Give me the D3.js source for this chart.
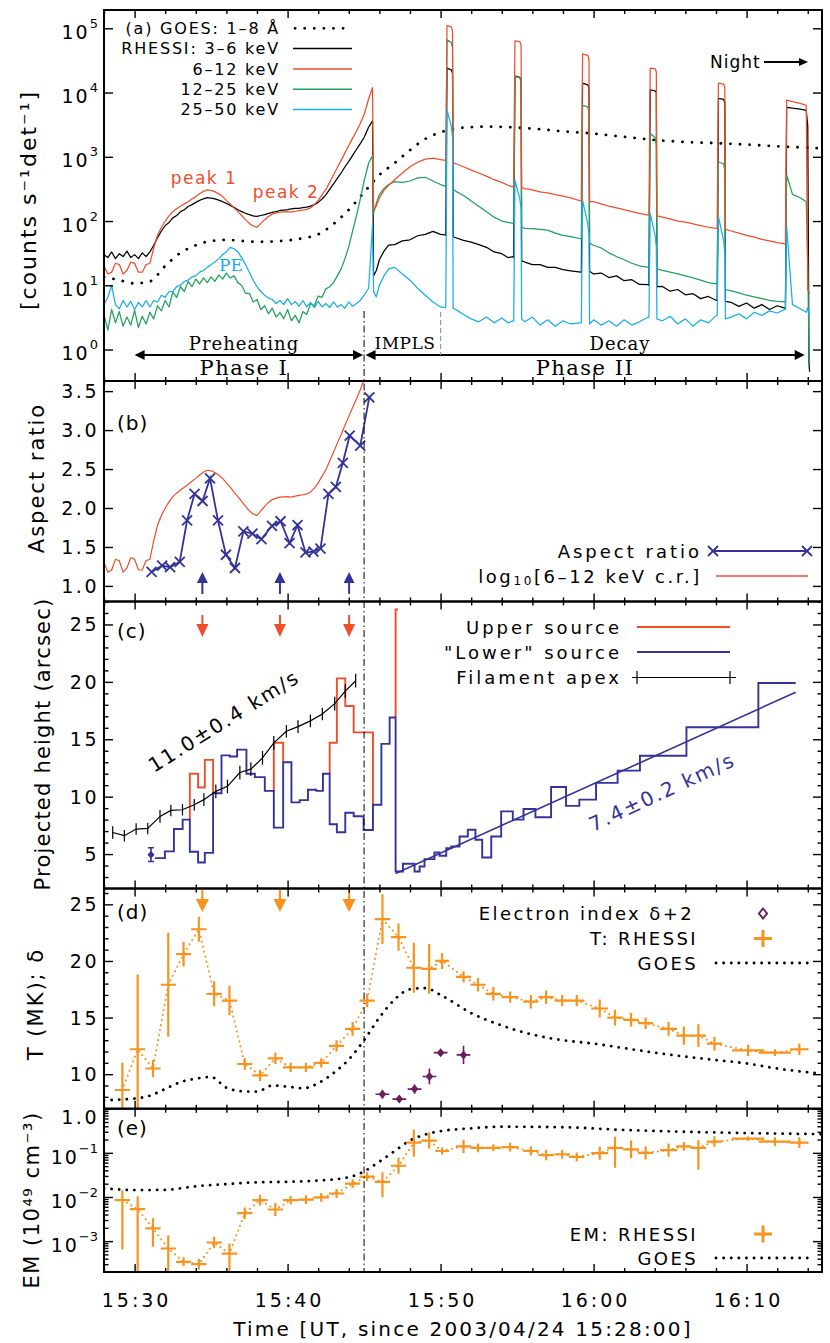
<!DOCTYPE html>
<html>
<head>
<meta charset="utf-8">
<script src="https://cdn.jsdelivr.net/npm/d3@7/dist/d3.min.js"></script>
<style>
html,body{margin:0;padding:0;background:#fff;}
text{font-family:"DejaVu Sans",sans-serif;}
</style>
</head>
<body>
<svg id="chart" width="830" height="1343" xmlns="http://www.w3.org/2000/svg"></svg>
<script>
// ================= DATA (time t = minutes since 15:28:00 UT) =================
const timeTicksMajor = [2, 12, 22, 32, 42];
const timeTickLabels = ["15:30", "15:40", "15:50", "16:00", "16:10"];
const timeTicksMinor = [0, 4, 6, 8, 10, 14, 16, 18, 20, 24, 26, 28, 30, 34, 36, 38, 40, 44, 46];

// panel (a): RHESSI count rates
const timesA = [0,0.25,0.5,0.75,1,1.25,1.5,1.75,2,2.25,2.5,2.75,3,3.25,3.5,3.75,4,4.25,4.5,4.75,
5,5.25,5.5,5.75,6,6.25,6.5,6.75,7,7.25,7.5,7.75,8,8.25,8.5,8.75,9,9.25,9.5,9.75,
10,10.25,10.5,10.75,11,11.25,11.5,11.75,12,12.25,12.5,12.75,13,13.25,13.5,13.75,14,14.25,14.5,14.75,
15,15.25,15.5,15.75,16,16.25,16.5,16.75,17,
17.3,17.55,17.62,17.8,18,18.3,18.6,19,19.5,20,20.5,21,21.5,22,22.3,
22.34,22.42,22.7,22.78,22.82,
23,23.5,24,24.5,25,25.5,26,26.4,26.74,
26.78,26.86,27.18,27.26,27.3,
27.5,28,28.5,29,29.5,30,30.5,31.16,
31.2,31.28,31.62,31.7,31.74,
32,32.5,33,33.5,34,34.5,35,35.58,
35.62,35.7,36.02,36.1,36.14,
36.5,37,37.5,38,38.5,39,39.5,40.04,
40.08,40.16,40.5,40.58,40.62,
41,41.5,42,42.5,43,43.5,44,44.5,
44.54,44.62,45,45.5,45.9,46,46.08,46.12];
const rate3to6 = [30,27,33,26,31,28,34,27,30,26,32,28,33,42,55,70,85,95,112,122,
140,150,168,180,195,210,222,232,228,222,212,200,188,175,163,150,140,132,126,120,
118,122,126,132,136,140,146,148,150,155,157,158,162,165,171,180,195,220,255,310,
380,460,560,700,850,1050,1300,1600,2000,
2900,3640,14,17,25,34,42,43,49,51,59,62,69,62,61,
60,24000,22500,20000,57,
55,50,47,43,39,33,31,27,28,
27,18000,17200,16000,24,
23,21,21,19,19,17.5,16.8,16,
16,14000,13200,12000,16.5,
15,15.5,13.2,14,11.8,12.2,10.3,10.2,
10,11000,10600,10000,9.5,
9.6,8.1,8.6,7.1,7.4,6.2,6.7,5.8,
5.9,8100,7800,7000,5.6,
5.4,4.7,5.3,4.4,5.0,4.2,4.8,4.4,
4.4,5900,5700,5500,5300,3000,0.6,0.45];
const rate6to12 = [20,15,16,22,21,15,17,23,22,16,16,21,22,38,60,80,100,120,140,155,
170,185,200,220,240,265,290,305,300,285,265,240,210,185,160,140,122,105,92,84,
80,92,105,118,128,134,138,139,140,138,142,145,148,152,160,180,210,255,310,400,
520,680,880,1150,1500,1950,2500,3300,4500,
8000,11900,150,170,230,300,360,440,560,700,820,920,950,900,880,
880,110000,105000,90000,800,
780,700,620,560,500,440,400,360,340,
340,64000,62000,55000,330,
320,305,285,275,258,245,230,205,
205,40000,38000,33000,200,
200,185,170,160,150,140,132,124,
124,24000,23500,21000,120,
115,108,100,96,90,85,80,77,
77,14000,13500,12000,74,
70,65,60,56,52,49,46,44,
44,7600,7200,6800,6300,8.4,8.0,7.5];
const rate12to25 = [3.5,2.0,4.2,2.6,3.9,2.3,3.2,2.4,4.1,2.2,3.3,2.5,3.8,3.0,4.8,4.0,5.8,4.6,7.8,6.5,
9.5,8.0,11.5,9.5,12.5,10.5,13,11,13.5,11.5,14.5,12.5,15.5,13,14,11,10,7.5,7.5,5.5,
6,4.2,4.8,3.6,4.4,3.2,3.8,3.0,4.2,2.8,3.4,2.6,3.9,3.5,5.2,4.8,6.8,6.5,8.8,9.5,
11,14,18,26,40,70,120,220,420,
800,1035,130,190,260,320,370,410,400,420,470,480,420,370,350,
350,66000,60000,50000,310,
290,250,205,170,140,115,100,95,92,
92,17700,17000,15000,80,
77,76,74,72,65,60,57,53,
53,6300,6000,5000,45,
42,38,32,28,25,22,20,19,
19,2300,2000,1500,18,
17,16,15,14,13,12,11,10.5,
10.5,830,780,600,8.6,
8.2,7.6,7.0,6.6,6.2,5.8,5.6,5.5,
5.5,520,260,230,200,20,1.0,0.6];
const rate25to50 = [5,6.5,10,5,4.3,5.8,4.6,5.6,4.2,5.4,4.6,5.8,4.6,5.8,5.5,7,6.5,8,8,9.5,
10,11.5,12,13.5,14,16,17,19,21,23,26,30,33,39,37,33,27,21,16,12,
9.5,8,7,6.3,6,5.2,5.8,5.0,6.2,5.0,5.6,4.7,5.8,4.6,5.4,4.5,5.6,4.6,5.2,4.5,
5.5,4.6,5.0,4.4,5.5,4.7,5.2,5.8,7,
9,87,8,6.6,10,14,18,19,15,12,9,7,5.5,4.6,4.5,
4.5,5300,3000,2000,4.4,
4.2,3.5,3.0,2.7,3.2,2.6,3.1,2.6,2.8,
2.8,434,220,150,3,
2.7,3.2,2.4,2.9,2.3,2.8,2.5,2.6,
2.6,210,90,60,2.5,
2.9,2.4,2.8,2.3,2.9,2.4,2.7,3.2,
3.2,131,60,40,3,
2.8,3.3,2.5,3.0,2.3,2.9,2.6,3.4,
3.4,116,50,30,3,
3.2,3.6,3.0,3.8,3.4,4.0,3.7,4.2,
4.2,81,5,4.3,3.8,4.5,3.5,3.8];
const goesTime = [0,1,2,3,4,5,6,7,8,9,10,11,12,13,14,15,16,17,18,19,20,21,22,23,24,25,26,28,30,32,34,36,38,40,42,44,46.93];
const goesFlux = [13.5,12,10.7,11.5,20,32,42,49,51,49,47.5,48,50,54,62,90,150,280,520,800,1270,1900,2400,2750,2900,2950,2920,2750,2500,2300,2050,1830,1700,1630,1550,1460,1350];

// panel (b): aspect ratio
const aspectTime = [3.11,3.80,4.32,4.95,5.43,5.92,6.44,6.93,7.45,7.97,8.56,9.11,9.70,10.29,10.98,11.54,12.13,12.65,13.17,13.69,14.15,14.67,15.15,15.61,16.06,16.75,17.34];
const aspectRatio = [1.18,1.26,1.24,1.31,1.84,2.18,2.09,2.38,1.84,1.40,1.23,1.70,1.67,1.60,1.77,1.83,1.55,1.78,1.43,1.44,1.48,2.18,2.27,2.58,2.93,2.80,3.42];
const markerTimes = [6.43, 11.5, 16.02];

// panel (c): heights
const filamentTime = [0.57,1.33,2.10,2.86,3.66,4.37,5.13,5.90,6.53,7.31,8.07,8.88,9.60,10.36,11.10,11.92,12.68,13.49,14.27,15.08,15.77,16.45];
const filamentHeight = [6.88,6.60,7.18,7.23,8.28,8.80,8.86,9.30,9.74,10.46,10.90,12.10,12.40,13.37,14.68,15.70,16.10,16.60,17.20,18.10,19.20,20.10];
const filamentErr = [0.55,0.5,0.5,0.5,0.55,0.5,0.5,0.5,0.55,0.6,0.6,0.6,0.6,0.6,0.6,0.55,0.55,0.55,0.55,0.6,0.6,0.6];
const binEdges = [3.33,3.98,4.57,5.14,5.61,6.15,6.59,7.13,7.68,8.22,8.70,9.31,9.86,10.51,11.10,11.71,12.25,12.79,13.33,13.88,14.31,14.75,15.22,15.77,16.32,16.97,17.58,18.13,18.67,19.06,19.54,20.30,20.63,20.95,21.60,21.93,22.37,22.70,23.24,23.78,24.28,24.72,25.31,25.96,26.72,27.42,28.20,29.22,30.20,31.07,32.16,33.57,35.03,38.07,42.77,45.21];
const lowerHeight = [4.65,5.23,7.18,8.0,5.2,4.27,5.1,10.3,13.6,13.5,14.1,12.0,11.7,10.5,7.3,13.0,9.5,9.7,10.6,10.5,12.0,7.6,6.9,8.6,8.3,7.1,9.3,14.6,16.9,
3.48,4.15,3.48,3.92,4.56,5.14,4.85,5.52,5.66,6.53,7.12,6.25,4.7,6.53,8.72,8.0,8.92,8.2,10.84,9.2,9.74,11.2,12.27,13.57,16.04,19.9];
const upperHeight = [null,null,null,null,12.0,10.8,13.2,null,null,null,null,null,null,null,14.7,null,null,null,null,null,null,14.7,20.3,17.9,15.6,15.6,null,null,null,
null,null,null,null,null,null,null,null,null,null,null,null,null,null,null,null,null,null,null,null,null,null,null,null,null,null];
const upperSpikeTime = [19.06, 19.22];
const upperSpikeHeight = [26.3, 26.3];
const lowerFirstTime = [3.07], lowerFirstHeight = [4.95], lowerFirstErr = [0.6];
const lowerFitTime = [19.06, 45.21], lowerFitHeight = [3.3, 19.1];

// panels (d),(e): RHESSI thermal fits
const rhessiTime = [1.2,2.2,3.2,4.2,5.2,6.2,7.2,8.2,9.2,10.2,11.2,12.2,13.2,14.2,15.2,16.25,17.2,18.2,19.25,20.25,21.25,22.1,23.5,24.45,25.45,26.55,27.9,28.9,29.95,30.9,32.4,33.4,34.45,35.4,36.9,37.9,38.85,39.9,42.1,43.85,45.45];
const rhessiHalfWidth = [0.5,0.5,0.5,0.5,0.5,0.5,0.5,0.5,0.5,0.5,0.5,0.5,0.5,0.5,0.5,0.5,0.5,0.5,0.5,0.5,0.5,0.45,0.5,0.5,0.5,0.55,0.5,0.5,0.5,0.5,0.55,0.5,0.5,0.5,0.55,0.5,0.5,0.5,1.05,1.05,0.6];
const tempRhessi = [8.6,12.2,10.5,17.9,20.6,22.8,17.1,16.5,10.9,9.9,11.4,10.6,10.6,11.0,12.5,14.0,16.5,23.7,22.1,19.4,19.3,20.0,18.6,17.9,17.1,16.8,16.4,16.8,16.5,16.5,15.8,15.0,14.8,14.5,14.0,13.4,13.4,12.7,12.1,11.9,12.2];
const tempErr = [2.4,6.6,0.75,4.6,1.1,1.1,1.1,1.3,0.5,0.5,0.5,0.4,0.4,0.4,0.5,0.6,0.6,2.2,1.2,2.2,2.2,0.7,0.5,0.6,0.6,0.5,0.6,0.6,0.5,0.5,0.8,0.7,0.6,0.5,0.6,0.8,1.0,0.6,0.5,0.3,0.5];
const goesTempTime = [0,1,2,3,4,5,6,7,8,9,10,11,12,13,14,15,16,17,18,19,20,21,22,24,26,28,30,32,34,36,38,40,42,44,46.93];
const goesTemp = [7.7,7.75,7.85,8.1,8.7,9.3,9.6,9.75,8.8,8.5,8.45,9.0,8.9,8.75,9.2,10.1,11.3,13.0,15.0,16.6,17.5,17.6,17.0,15.4,14.3,13.5,13.0,12.7,12.3,11.9,11.55,11.25,10.95,10.5,10.05];
const deltaTime = [18.2,19.3,20.3,21.27,22.0,23.5];
const deltaPlus2 = [8.23,7.8,8.68,9.8,11.9,11.7];
const deltaErr = [0.4,0.2,0.4,0.7,0.25,0.8];

const emRhessi = [8.5e-3,5.3e-3,1.95e-3,6.8e-4,3.4e-4,3.0e-4,9.3e-4,5.2e-4,4.3e-3,8.5e-3,5.2e-3,8.5e-3,8.7e-3,9.8e-3,1.2e-2,2.0e-2,2.9e-2,2.2e-2,5.1e-2,0.17,0.19,0.11,0.14,0.13,0.13,0.135,0.11,0.089,0.093,0.081,0.098,0.13,0.12,0.10,0.115,0.14,0.13,0.18,0.21,0.18,0.17];
const emErrUpDex = [0.22,0.29,0.23,0.3,0.1,0.12,0.13,0.23,0.13,0.12,0.15,0.1,0.1,0.1,0.1,0.1,0.1,0.22,0.18,0.3,0.18,0.08,0.15,0.1,0.08,0.1,0.1,0.12,0.1,0.1,0.15,0.25,0.2,0.15,0.15,0.1,0.17,0.12,0.05,0.1,0.12];
const emErrDnDex = [1.12,2,0.42,1,0.1,0.12,0.13,0.5,0.13,0.12,0.15,0.1,0.1,0.1,0.1,0.1,0.1,0.35,0.18,0.32,0.18,0.08,0.15,0.1,0.08,0.1,0.1,0.12,0.1,0.1,0.15,0.45,0.2,0.15,0.15,0.1,0.5,0.12,0.05,0.1,0.12];
const goesEmTime = [0,2,4,6,8,10,12,14,16,17,18,19,20,21,22,24,26,30,34,38,42,46.93];
const goesEm = [0.0158,0.0143,0.0145,0.0175,0.0195,0.0215,0.022,0.0235,0.028,0.038,0.063,0.11,0.19,0.26,0.31,0.36,0.39,0.38,0.33,0.30,0.28,0.265];

// ================= DRAWING =================
const C = {red:"#f04e2b", green:"#1ea35a", cyan:"#18aee9", navy:"#33339b", orange:"#f7931e", purple:"#6c1d5c"};
const svg = d3.select("#chart");
svg.append("rect").attr("width",830).attr("height",1343).attr("fill","#fff");
const X0 = 104, X1 = 822;
const x = d3.scaleLinear().domain([0, 46.93]).range([X0, X1]);
const P = {a:{top:10,bot:381}, b:{top:381,bot:601.5}, c:{top:601.5,bot:888.5}, d:{top:888.5,bot:1108.7}, e:{top:1108.7,bot:1272}};
const ya = d3.scaleLog().domain([Math.pow(10,-0.49), Math.pow(10,5.285)]).range([P.a.bot, P.a.top]);
const yb = d3.scaleLinear().domain([0.8, 3.63]).range([P.b.bot, P.b.top]);
const yc = d3.scaleLinear().domain([2, 27]).range([P.c.bot, P.c.top]);
const yd = d3.scaleLinear().domain([6.95, 26.4]).range([P.d.bot, P.d.top]);
const ye = d3.scaleLog().domain([Math.pow(10,-3.7), 1]).range([P.e.bot, P.e.top]);

const defs = svg.append("defs");
for (const k in P) {
  defs.append("clipPath").attr("id","clip-"+k).append("rect")
    .attr("x",X0).attr("y",P[k].top).attr("width",X1-X0).attr("height",P[k].bot-P[k].top);
}
const layer = k => svg.append("g").attr("clip-path",`url(#clip-${k})`);

function label(parent, px, py, s, o = {}) {
  const t = parent.append("text").attr("x",px).attr("y",py)
    .attr("text-anchor", o.anchor || "start")
    .attr("dominant-baseline","central")
    .attr("fill", o.fill || "#000")
    .style("font-size", (o.size || 16) + "px");
  if (o.ls != null) t.style("letter-spacing", o.ls + "px");
  if (o.family) t.style("font-family", o.family);
  if (o.weight) t.style("font-weight", o.weight);
  if (o.rotate) t.attr("transform", `rotate(${o.rotate},${px},${py})`);
  if (s != null) t.text(s);
  return t;
}
function axesFor(k, y, yMajor, yMinor) {
  const g = svg.append("g");
  const {top, bot} = P[k];
  const put = (axis, tx, ty) => g.append("g").attr("transform",`translate(${tx},${ty})`).call(axis)
      .call(s => { s.select(".domain").remove(); s.selectAll("text").remove(); });
  put(d3.axisBottom(x).tickValues(timeTicksMajor).tickSize(-8), 0, bot);
  put(d3.axisBottom(x).tickValues(timeTicksMinor).tickSize(-4), 0, bot);
  put(d3.axisTop(x).tickValues(timeTicksMajor).tickSize(-8), 0, top);
  put(d3.axisTop(x).tickValues(timeTicksMinor).tickSize(-4), 0, top);
  put(d3.axisLeft(y).tickValues(yMajor).tickSize(-9), X0, 0);
  put(d3.axisRight(y).tickValues(yMajor).tickSize(-9), X1, 0);
  if (yMinor) {
    put(d3.axisLeft(y).tickValues(yMinor).tickSize(-4.5), X0, 0);
    put(d3.axisRight(y).tickValues(yMinor).tickSize(-4.5), X1, 0);
  }
  g.selectAll("line").attr("stroke","#000").attr("stroke-width",1.4);
  g.append("rect").attr("x",X0).attr("y",top).attr("width",X1-X0).attr("height",bot-top)
    .attr("fill","none").attr("stroke","#000").attr("stroke-width",2);
}
function tri(g, tx, ty, dir, len, hw, color) {
  let pts;
  if (dir === "right") pts = [[tx,ty],[tx-len,ty-hw],[tx-len,ty+hw]];
  if (dir === "left") pts = [[tx,ty],[tx+len,ty-hw],[tx+len,ty+hw]];
  if (dir === "up") pts = [[tx,ty],[tx-hw,ty+len],[tx+hw,ty+len]];
  if (dir === "down") pts = [[tx,ty],[tx-hw,ty-len],[tx+hw,ty-len]];
  g.append("path").attr("d","M"+pts.map(p=>p.join(",")).join("L")+"Z").attr("fill",color);
}
const dotted = (sel, w, gap) => sel.attr("fill","none").attr("stroke-linecap","round")
   .attr("stroke-width", w).attr("stroke-dasharray", `0.1,${gap}`);
const TICK = {anchor:"end", size:19, ls:2.5};

// ---------- panel (a) ----------
const ga = layer("a");
const lineA = d3.line().x(d => x(d[0])).y(d => ya(d[1]));
dotted(ga.append("path").datum(goesTime.map((t,i)=>[t,goesFlux[i]]))
  .attr("d", d3.line().x(d=>x(d[0])).y(d=>ya(d[1])).curve(d3.curveMonotoneX)).attr("stroke","#000"), 2.8, 9.5);
[[rate3to6,"#000"],[rate12to25,C.green],[rate6to12,C.red],[rate25to50,C.cyan]].forEach(([arr,col]) => {
  ga.append("path").datum(timesA.map((t,i)=>[t,arr[i]])).attr("d",lineA)
    .attr("fill","none").attr("stroke",col).attr("stroke-width",1.25).attr("stroke-linejoin","round");
});
axesFor("a", ya, [1,10,100,1000,1e4,1e5], null);
[0,1,2,3,4,5].forEach(p => {
  const t = label(svg, 98, ya(Math.pow(10,p)) + 3.5, null, {anchor:"end", size:19, ls:2});
  t.append("tspan").text("10");
  t.append("tspan").attr("dy",-9).style("font-size","13px").style("letter-spacing","0px").text(p);
});
label(svg, 28, 200, "[counts s⁻¹det⁻¹]", {anchor:"middle", size:22, ls:2, rotate:-90});
const legA = [["(a) GOES: 1–8 Å", null, 28.3], ["RHESSI: 3–6 keV", "#000", 48.5], ["6–12 keV", C.red, 69], ["12–25 keV", C.green, 89.3], ["25–50 keV", C.cyan, 109.5]];
legA.forEach(([s,col,yy]) => {
  label(svg, 280, yy, s, {anchor:"end", size:16, ls:1.8});
  if (col) svg.append("line").attr("x1",293).attr("x2",352).attr("y1",yy).attr("y2",yy).attr("stroke",col).attr("stroke-width",1.4);
  else dotted(svg.append("line").attr("x1",295).attr("x2",352).attr("y1",yy).attr("y2",yy).attr("stroke","#000"), 2.8, 9.5);
});
label(svg, 204, 178, "peak 1", {anchor:"middle", size:17, ls:1.5, fill:C.red});
label(svg, 286, 192, "peak 2", {anchor:"middle", size:17, ls:1.5, fill:C.red});
label(svg, 231, 265, "PE", {anchor:"middle", size:17, fill:C.cyan, family:"DejaVu Serif"});
label(svg, 710, 62, "Night", {anchor:"start", size:17, ls:1});
svg.append("line").attr("x1",764).attr("x2",800).attr("y1",62).attr("y2",62).attr("stroke","#000").attr("stroke-width",1.8);
tri(svg, 808, 62, "right", 9, 4, "#000");
const ann = svg.append("g");
ann.append("line").attr("x1",x(2.0)+6).attr("x2",x(17)-7).attr("y1",355).attr("y2",355).attr("stroke","#000").attr("stroke-width",2);
tri(ann, x(2.0), 355, "left", 10, 5, "#000"); tri(ann, x(17)-1, 355, "right", 10, 5, "#000");
ann.append("line").attr("x1",x(17)+7).attr("x2",x(45.8)-6).attr("y1",355).attr("y2",355).attr("stroke","#000").attr("stroke-width",2);
tri(ann, x(17)+1.5, 355, "left", 10, 5, "#000"); tri(ann, x(45.8), 355, "right", 10, 5, "#000");
ann.append("line").attr("x1",x(22)).attr("x2",x(22)).attr("y1",312).attr("y2",355).attr("stroke","#999").attr("stroke-width",1.2).attr("stroke-dasharray","5,3");
label(ann, 244, 343, "Preheating", {anchor:"middle", size:18, ls:1, family:"DejaVu Serif"});
label(ann, 244, 368, "Phase I", {anchor:"middle", size:21, ls:1.5, family:"DejaVu Serif"});
label(ann, 405, 343, "IMPLS", {anchor:"middle", size:17, ls:0.5, family:"DejaVu Serif"});
label(ann, 620, 343, "Decay", {anchor:"middle", size:18, ls:1, family:"DejaVu Serif"});
label(ann, 585, 368, "Phase II", {anchor:"middle", size:21, ls:1.5, family:"DejaVu Serif"});

// ---------- panel (b) ----------
const gb = layer("b");
gb.append("path").datum(timesA.map((t,i)=>[t,rate6to12[i]]).filter(d=>d[0]<=17.55))
  .attr("d", d3.line().x(d=>x(d[0])).y(d=>yb(Math.log10(d[1]))))
  .attr("fill","none").attr("stroke",C.red).attr("stroke-width",1.2);
gb.append("path").datum(aspectTime.map((t,i)=>[t,aspectRatio[i]]))
  .attr("d", d3.line().x(d=>x(d[0])).y(d=>yb(d[1])))
  .attr("fill","none").attr("stroke",C.navy).attr("stroke-width",1.8);
const cross = (g, cx, cy, r, col, w) => {
  g.append("line").attr("x1",cx-r).attr("x2",cx+r).attr("y1",cy-r).attr("y2",cy+r).attr("stroke",col).attr("stroke-width",w);
  g.append("line").attr("x1",cx-r).attr("x2",cx+r).attr("y1",cy+r).attr("y2",cy-r).attr("stroke",col).attr("stroke-width",w);
};
aspectTime.forEach((t,i) => cross(gb, x(t), yb(aspectRatio[i]), 5, C.navy, 1.8));
markerTimes.forEach(t => {
  svg.append("line").attr("x1",x(t)).attr("x2",x(t)).attr("y1",594).attr("y2",582).attr("stroke",C.navy).attr("stroke-width",2);
  tri(svg, x(t), 572, "up", 11, 5.5, C.navy);
});
axesFor("b", yb, [1.0,1.5,2.0,2.5,3.0,3.5], null);
[1.0,1.5,2.0,2.5,3.0,3.5].forEach(v => label(svg, 99, yb(v), v.toFixed(1), TICK));
label(svg, 37, 478, "Aspect ratio", {anchor:"middle", size:21, ls:2, rotate:-90});
label(svg, 117, 423, "(b)", {size:20, ls:1});
label(svg, 702, 551, "Aspect ratio", {anchor:"end", size:18, ls:3});
svg.append("line").attr("x1",713).attr("x2",807).attr("y1",551).attr("y2",551).attr("stroke",C.navy).attr("stroke-width",1.8);
cross(svg, 713, 551, 5, C.navy, 1.8); cross(svg, 807, 551, 5, C.navy, 1.8);
const lg = label(svg, 702, 576, null, {anchor:"end", size:18, ls:2.6});
lg.append("tspan").text("log");
lg.append("tspan").attr("dy",5).style("font-size","12px").text("10");
lg.append("tspan").attr("dy",-5).text("[6–12 keV c.r.]");
svg.append("line").attr("x1",716).attr("x2",808).attr("y1",576).attr("y2",576).attr("stroke",C.red).attr("stroke-width",1.3);

// ---------- panel (c) ----------
const gc = layer("c");
const stepPts = [];
lowerHeight.forEach((h,i) => { stepPts.push([binEdges[i],h]); stepPts.push([binEdges[i+1],h]); });
const lineC = d3.line().x(d=>x(d[0])).y(d=>yc(d[1]));
let i = 0;
const runs = [];
while (i < upperHeight.length) {
  if (upperHeight[i] != null) {
    let j = i; const pts = [[binEdges[i], lowerHeight[i-1]]];
    while (j < upperHeight.length && upperHeight[j] != null) { pts.push([binEdges[j],upperHeight[j]]); pts.push([binEdges[j+1],upperHeight[j]]); j++; }
    pts.push([binEdges[j], lowerHeight[j]]);
    runs.push(pts); i = j;
  } else i++;
}
runs.forEach(pts => gc.append("path").datum(pts).attr("d",lineC).attr("fill","none").attr("stroke",C.red).attr("stroke-width",1.9));
gc.append("path").datum([[upperSpikeTime[0], lowerHeight[28]], [upperSpikeTime[0], upperSpikeHeight[0]], [upperSpikeTime[1], upperSpikeHeight[1]]])
  .attr("d",lineC).attr("fill","none").attr("stroke",C.red).attr("stroke-width",1.9);
gc.append("path").datum(stepPts).attr("d",lineC).attr("fill","none").attr("stroke",C.navy).attr("stroke-width",1.9);
gc.append("path").datum(lowerFitTime.map((t,k)=>[t,lowerFitHeight[k]])).attr("d",lineC).attr("fill","none").attr("stroke",C.navy).attr("stroke-width",1.6);
lowerFirstTime.forEach((t,k) => {
  const lo = yc(lowerFirstHeight[k]-lowerFirstErr[k]), hi = yc(lowerFirstHeight[k]+lowerFirstErr[k]);
  gc.append("line").attr("x1",x(t)).attr("x2",x(t)).attr("y1",lo).attr("y2",hi).attr("stroke",C.navy).attr("stroke-width",1.6);
  gc.append("line").attr("x1",x(t)-3).attr("x2",x(t)+3).attr("y1",lo).attr("y2",lo).attr("stroke",C.navy).attr("stroke-width",1.4);
  gc.append("line").attr("x1",x(t)-3).attr("x2",x(t)+3).attr("y1",hi).attr("y2",hi).attr("stroke",C.navy).attr("stroke-width",1.4);
  gc.append("path").attr("transform",`translate(${x(t)},${yc(lowerFirstHeight[k])})`).attr("d","M0,-4L3.5,0L0,4L-3.5,0Z").attr("fill",C.navy);
});
gc.append("path").datum(filamentTime.map((t,k)=>[t,filamentHeight[k]])).attr("d",lineC).attr("fill","none").attr("stroke","#000").attr("stroke-width",1.2);
filamentTime.forEach((t,k) => gc.append("line").attr("x1",x(t)).attr("x2",x(t))
  .attr("y1",yc(filamentHeight[k]-filamentErr[k])).attr("y2",yc(filamentHeight[k]+filamentErr[k])).attr("stroke","#000").attr("stroke-width",1.2));
markerTimes.forEach(t => {
  svg.append("line").attr("x1",x(t)).attr("x2",x(t)).attr("y1",615).attr("y2",625).attr("stroke",C.red).attr("stroke-width",2);
  tri(svg, x(t), 637, "down", 13, 6, C.red);
});
axesFor("c", yc, [5,10,15,20,25], [3,4,6,7,8,9,11,12,13,14,16,17,18,19,21,22,23,24,26,27]);
[5,10,15,20,25].forEach(v => label(svg, 99, yc(v), String(v), TICK));
label(svg, 43, 744, "Projected height (arcsec)", {anchor:"middle", size:21, ls:1.2, rotate:-90});
label(svg, 117, 631, "(c)", {size:20, ls:1});
label(svg, 224, 721, "11.0±0.4 km/s", {anchor:"middle", size:20, ls:2, rotate:-32});
label(svg, 662, 792, "7.4±0.2 km/s", {anchor:"middle", size:20, ls:2, rotate:-25, fill:C.navy});
label(svg, 622, 627, "Upper source", {anchor:"end", size:18, ls:3});
svg.append("line").attr("x1",637).attr("x2",730).attr("y1",627).attr("y2",627).attr("stroke",C.red).attr("stroke-width",1.8);
label(svg, 622, 652, "\"Lower\" source", {anchor:"end", size:18, ls:3});
svg.append("line").attr("x1",637).attr("x2",730).attr("y1",652).attr("y2",652).attr("stroke",C.navy).attr("stroke-width",1.8);
label(svg, 622, 677.5, "Filament apex", {anchor:"end", size:18, ls:3});
svg.append("line").attr("x1",632).attr("x2",736).attr("y1",677.5).attr("y2",677.5).attr("stroke","#000").attr("stroke-width",1.2);
[637,730].forEach(xx => svg.append("line").attr("x1",xx).attr("x2",xx).attr("y1",671).attr("y2",684).attr("stroke","#000").attr("stroke-width",1.2));

// ---------- panel (d) ----------
const gd = layer("d");
dotted(gd.append("path").datum(goesTempTime.map((t,k)=>[t,goesTemp[k]]))
  .attr("d", d3.line().x(d=>x(d[0])).y(d=>yd(d[1])).curve(d3.curveMonotoneX)).attr("stroke","#000"), 2.8, 7.5);
dotted(gd.append("path").datum(rhessiTime.map((t,k)=>[t,tempRhessi[k]]))
  .attr("d", d3.line().x(d=>x(d[0])).y(d=>yd(d[1]))).attr("stroke",C.orange), 2, 5);
rhessiTime.forEach((t,k) => {
  gd.append("line").attr("x1",x(t-rhessiHalfWidth[k])).attr("x2",x(t+rhessiHalfWidth[k])).attr("y1",yd(tempRhessi[k])).attr("y2",yd(tempRhessi[k])).attr("stroke",C.orange).attr("stroke-width",2.2);
  gd.append("line").attr("x1",x(t)).attr("x2",x(t)).attr("y1",yd(tempRhessi[k]-tempErr[k])).attr("y2",yd(tempRhessi[k]+tempErr[k])).attr("stroke",C.orange).attr("stroke-width",2.2);
});
deltaTime.forEach((t,k) => {
  const cx = x(t), cy = yd(deltaPlus2[k]);
  gd.append("line").attr("x1",x(t-0.45)).attr("x2",x(t+0.45)).attr("y1",cy).attr("y2",cy).attr("stroke",C.purple).attr("stroke-width",1.6);
  gd.append("line").attr("x1",cx).attr("x2",cx).attr("y1",yd(deltaPlus2[k]-deltaErr[k])).attr("y2",yd(deltaPlus2[k]+deltaErr[k])).attr("stroke",C.purple).attr("stroke-width",1.6);
  gd.append("path").attr("transform",`translate(${cx},${cy})`).attr("d","M0,-4.5L3.8,0L0,4.5L-3.8,0Z").attr("fill",C.purple);
});
markerTimes.forEach(t => {
  svg.append("line").attr("x1",x(t)).attr("x2",x(t)).attr("y1",889).attr("y2",899).attr("stroke",C.orange).attr("stroke-width",2.2);
  tri(svg, x(t), 912, "down", 13, 6.5, C.orange);
});
axesFor("d", yd, [10,15,20,25], [7,8,9,11,12,13,14,16,17,18,19,21,22,23,24,26]);
[10,15,20,25].forEach(v => label(svg, 99, yd(v), String(v), TICK));
label(svg, 36, 1004, "T (MK); δ", {anchor:"middle", size:21, ls:2, rotate:-90});
label(svg, 117, 912, "(d)", {size:20, ls:1});
label(svg, 694, 913.5, "Electron index δ+2", {anchor:"end", size:18, ls:2.4});
svg.append("path").attr("transform","translate(763,913.5)").attr("d","M0,-5L4,0L0,5L-4,0Z").attr("fill","none").attr("stroke",C.purple).attr("stroke-width",2);
label(svg, 698, 938.5, "T: RHESSI", {anchor:"end", size:18, ls:2.4});
svg.append("line").attr("x1",754).attr("x2",772).attr("y1",938.5).attr("y2",938.5).attr("stroke",C.orange).attr("stroke-width",3);
svg.append("line").attr("x1",763).attr("x2",763).attr("y1",930).attr("y2",947).attr("stroke",C.orange).attr("stroke-width",3);
label(svg, 698, 963, "GOES", {anchor:"end", size:18, ls:2.4});
dotted(svg.append("line").attr("x1",716).attr("x2",811).attr("y1",963).attr("y2",963).attr("stroke","#000"), 2.8, 7.5);

// ---------- panel (e) ----------
const ge = layer("e");
dotted(ge.append("path").datum(goesEmTime.map((t,k)=>[t,goesEm[k]]))
  .attr("d", d3.line().x(d=>x(d[0])).y(d=>ye(d[1])).curve(d3.curveMonotoneX)).attr("stroke","#000"), 2.8, 7.5);
dotted(ge.append("path").datum(rhessiTime.map((t,k)=>[t,emRhessi[k]]))
  .attr("d", d3.line().x(d=>x(d[0])).y(d=>ye(d[1]))).attr("stroke",C.orange), 2, 5);
rhessiTime.forEach((t,k) => {
  const v = emRhessi[k];
  ge.append("line").attr("x1",x(t-rhessiHalfWidth[k])).attr("x2",x(t+rhessiHalfWidth[k])).attr("y1",ye(v)).attr("y2",ye(v)).attr("stroke",C.orange).attr("stroke-width",2.2);
  ge.append("line").attr("x1",x(t)).attr("x2",x(t)).attr("y1",ye(v/Math.pow(10,emErrDnDex[k]))).attr("y2",ye(v*Math.pow(10,emErrUpDex[k]))).attr("stroke",C.orange).attr("stroke-width",2.2);
});
const emMinor = [3e-4,4e-4,5e-4,6e-4,7e-4,8e-4,9e-4,2e-3,3e-3,4e-3,5e-3,6e-3,7e-3,8e-3,9e-3,2e-2,3e-2,4e-2,5e-2,6e-2,7e-2,8e-2,9e-2,0.2,0.3,0.4,0.5,0.6,0.7,0.8,0.9];
axesFor("e", ye, [1e-3,1e-2,1e-1,1], emMinor);
[-3,-2,-1].forEach(p => {
  const t = label(svg, 98, ye(Math.pow(10,p)) + 4, null, {anchor:"end", size:19, ls:2});
  t.append("tspan").text("10");
  t.append("tspan").attr("dy",-9).style("font-size","13px").style("letter-spacing","0px").text("−" + (-p));
});
label(svg, 99, ye(1) + 8, "1.0", TICK);
label(svg, 32, 1200, "EM (10⁴⁹ cm⁻³)", {anchor:"middle", size:21, ls:1.5, rotate:-90});
label(svg, 117, 1128, "(e)", {size:20, ls:1});
label(svg, 698, 1234, "EM: RHESSI", {anchor:"end", size:18, ls:2.4});
svg.append("line").attr("x1",754).attr("x2",772).attr("y1",1234).attr("y2",1234).attr("stroke",C.orange).attr("stroke-width",3);
svg.append("line").attr("x1",763).attr("x2",763).attr("y1",1225.5).attr("y2",1242.5).attr("stroke",C.orange).attr("stroke-width",3);
label(svg, 698, 1258, "GOES", {anchor:"end", size:18, ls:2.4});
dotted(svg.append("line").attr("x1",716).attr("x2",811).attr("y1",1258).attr("y2",1258).attr("stroke","#000"), 2.8, 7.5);

svg.append("line").attr("x1",x(17)).attr("x2",x(17)).attr("y1",311).attr("y2",P.e.bot)
  .attr("stroke","#000").attr("stroke-width",1).attr("stroke-dasharray","7,3,1.5,3");

timeTicksMajor.forEach((t,k) => label(svg, x(t)+2, 1300, timeTickLabels[k], {anchor:"middle", size:19, ls:3}));
label(svg, 463, 1329, "Time [UT, since 2003/04/24 15:28:00]", {anchor:"middle", size:20, ls:2.2});
</script>
</body>
</html>
